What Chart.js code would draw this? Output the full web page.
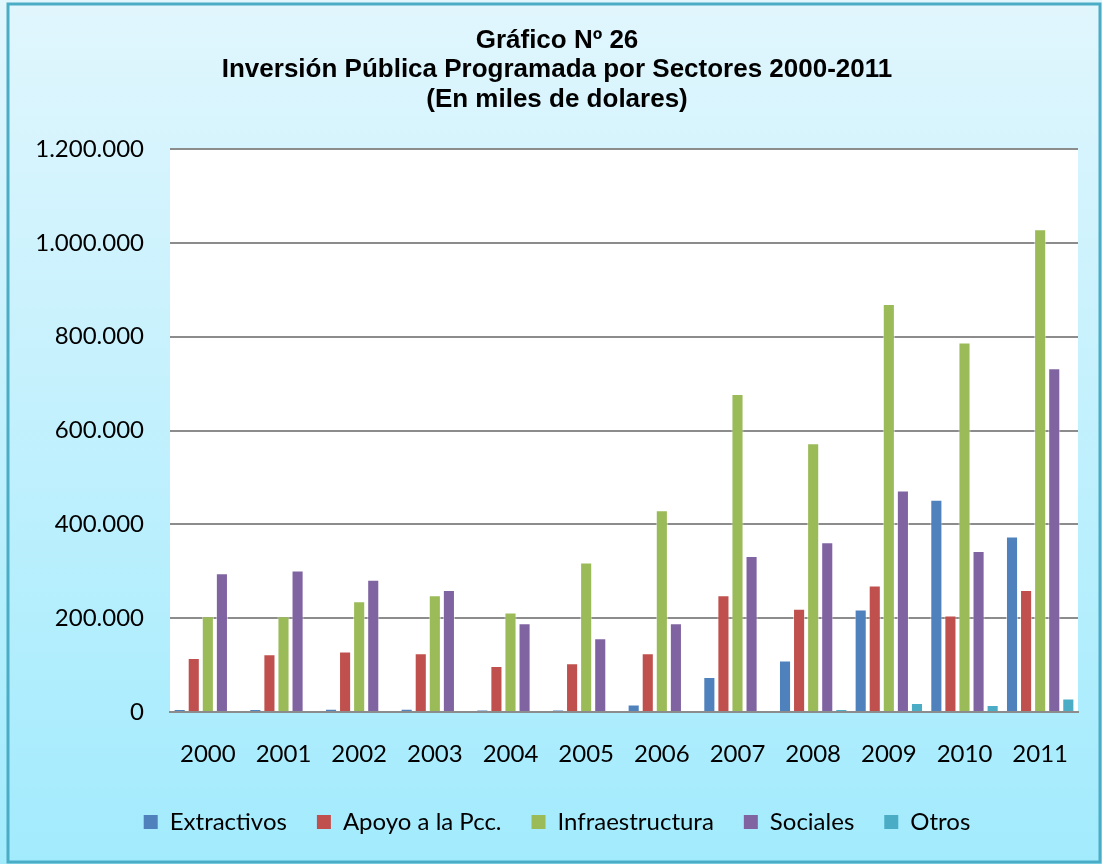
<!DOCTYPE html>
<html>
<head>
<meta charset="utf-8">
<script src="https://cdn.jsdelivr.net/npm/chart.js@4.4.1/dist/chart.umd.min.js"></script>
<style>
  html, body { margin: 0; padding: 0; background: #ffffff; }
  #wrap { width: 1102px; height: 864px; }
</style>
</head>
<body>
<div id="wrap"><canvas id="myChart" width="1102" height="864"></canvas></div>
<script>
// years on the x axis
const years = ["2000", "2001", "2002", "2003", "2004", "2005", "2006", "2007", "2008", "2009", "2010", "2011"];

// thousands of dollars
const extractivos = [6000, 6000, 7000, 7000, 4000, 4500, 16000, 74500, 110000, 218500, 452500, 374000];
const apoyo = [115000, 123000, 129000, 125500, 98000, 104000, 125500, 249000, 220000, 269500, 206000, 260000];
const infraestructura = [204000, 204000, 236000, 249000, 212000, 318500, 430000, 678000, 573000, 870000, 788000, 1029000];
const sociales = [296000, 301500, 282000, 260000, 189000, 157000, 189000, 332500, 362000, 472000, 343000, 733000];
const otros = [0, 0, 0, 0, 0, 0, 0, 0, 6000, 19000, 15000, 29000];

const yTicks = [0, 200000, 400000, 600000, 800000, 1000000, 1200000];

const titleLines = ["Gráfico Nº 26", "Inversión Pública Programada por Sectores 2000-2011", "(En miles de dolares)"];

function miles(v) {
  return String(v).replace(/\B(?=(\d{3})+(?!\d))/g, ".");
}

// background, border and white plot area
const backdrop = {
  id: "backdrop",
  beforeDraw(chart) {
    const ctx = chart.ctx;
    const w = chart.width, h = chart.height;
    ctx.save();
    let g = ctx.createLinearGradient(0, 0, 0, h);
    g.addColorStop(0, "#e1f6fd");
    g.addColorStop(1, "#a2ebfd");
    ctx.fillStyle = g;
    ctx.fillRect(0, 0, w, h);
    ctx.strokeStyle = "#4bacc6";
    ctx.lineWidth = 3;
    ctx.strokeRect(8, 4, w - 10, h - 6);
    const a = chart.chartArea;
    ctx.fillStyle = "#ffffff";
    ctx.fillRect(a.left, a.top, a.right - a.left, a.bottom - a.top);
    ctx.restore();
  }
};

function ds(label, data, color) {
  return {
    label: label,
    data: data,
    backgroundColor: color,
    borderColor: "rgba(255,255,255,0.55)",
    borderWidth: 1,
    categoryPercentage: 0.93,
    barPercentage: 0.86
  };
}

let myChart = document.getElementById("myChart");

let chart = new Chart(myChart, {
  type: "bar",
  data: {
    labels: years,
    datasets: [
      ds("Extractivos", extractivos, "#4f81bd"),
      ds("Apoyo a la Pcc.", apoyo, "#c0504d"),
      ds("Infraestructura", infraestructura, "#9bbb59"),
      ds("Sociales", sociales, "#8064a2"),
      ds("Otros", otros, "#4bacc6")
    ]
  },
  options: {
    responsive: false,
    animation: false,
    layout: { padding: { left: 36, right: 24, top: 14, bottom: 20 } },
    plugins: {
      title: {
        display: true,
        text: titleLines,
        color: "#000000",
        font: { family: "'Liberation Sans', Arial, sans-serif", size: 26, weight: "bold", lineHeight: 1.13 },
        padding: { top: 12, bottom: 35 }
      },
      legend: {
        position: "bottom",
        labels: {
          color: "#000000",
          font: { family: "Lato, sans-serif", size: 24 },
          boxWidth: 14,
          boxHeight: 14,
          padding: 30,
          generateLabels(c) {
            const items = Chart.defaults.plugins.legend.labels.generateLabels(c);
            items.forEach(it => { it.strokeStyle = it.fillStyle; it.lineWidth = 0; });
            return items;
          }
        }
      },
      tooltip: { enabled: false }
    },
    scales: {
      x: {
        grid: { display: false },
        border: { display: true, color: "#8c8c8c", width: 2 },
        ticks: { color: "#000000", font: { family: "Lato, sans-serif", size: 24 }, padding: 20 },
        afterFit(scale) { scale.height = 68; }
      },
      y: {
        min: 0,
        max: 1200000,
        afterBuildTicks(scale) { scale.ticks = yTicks.map(v => ({ value: v })); },
        grid: { color: "#8c8c8c", lineWidth: 2, drawTicks: false },
        border: { display: false },
        ticks: {
          color: "#000000",
          font: { family: "Lato, sans-serif", size: 24 },
          padding: 26,
          callback: v => miles(v)
        },
        afterFit(scale) { scale.width = 134; }
      }
    }
  },
  plugins: [backdrop]
});
</script>
</body>
</html>
